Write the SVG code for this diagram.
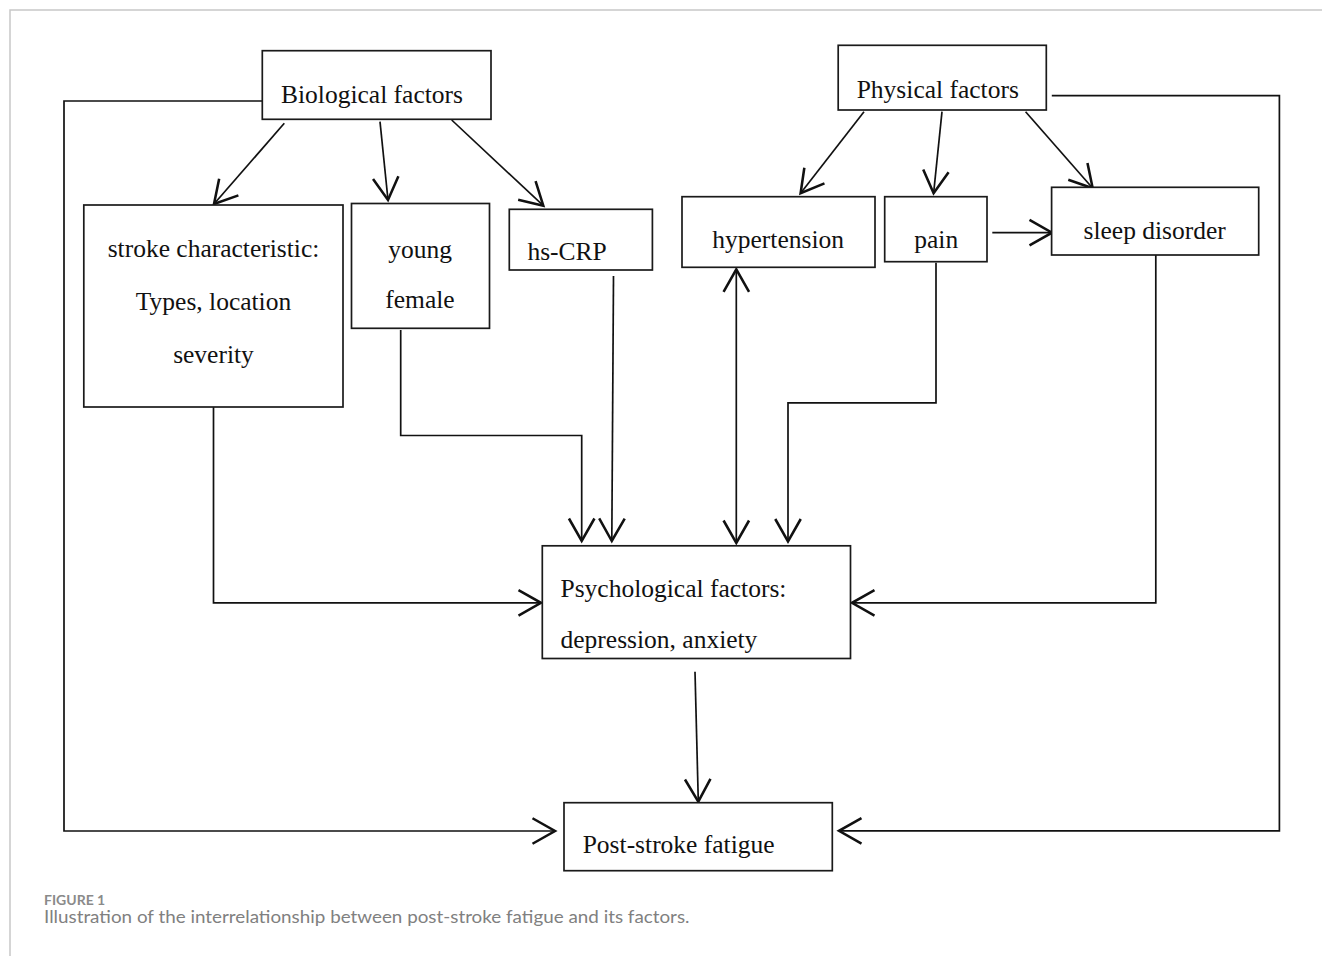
<svg xmlns="http://www.w3.org/2000/svg" width="1322" height="956" viewBox="0 0 1322 956">
<style>
.box{fill:#fff;stroke:#1a1a1a;stroke-width:1.7}
.lbl{font-family:"Liberation Serif","Times New Roman",serif;font-size:25.5px;fill:#111}
.con{fill:none;stroke:#111;stroke-width:1.7}
.frame{fill:none;stroke:#c8c8c8;stroke-width:1.5}
.cap1{font-family:Lato,"Open Sans",sans-serif;font-weight:bold;font-size:14px;fill:#8a8a8a}
.cap2{font-family:Lato,"Open Sans",sans-serif;font-size:17px;fill:#808080}
</style>
<defs>
<marker id="ah" markerUnits="userSpaceOnUse" markerWidth="30" markerHeight="30" refX="0" refY="0" viewBox="-16 -10 18 20" orient="auto-start-reverse" overflow="visible">
<path d="M-15,-8.5 L0,0 L-15,8.5" fill="none" stroke="#111" stroke-width="1.7"/>
</marker>
</defs>
<rect width="1322" height="956" fill="#fff"/>
<path class="frame" d="M10,956 V10 H1322"/>

<g id="connectors">
<polyline class="con" points="262,101 64,101 64,831 555,831" marker-end="url(#ah)"/>
<line class="con" x1="284.3" y1="123.3" x2="214" y2="204" marker-end="url(#ah)"/>
<line class="con" x1="380" y1="121.7" x2="388" y2="200" marker-end="url(#ah)"/>
<line class="con" x1="451.7" y1="120" x2="543.3" y2="205.7" marker-end="url(#ah)"/>
<polyline class="con" points="213.5,407 213.5,602.8 541,602.8" marker-end="url(#ah)"/>
<polyline class="con" points="400.7,330 400.7,435.5 581.7,435.5 581.7,541" marker-end="url(#ah)"/>
<line class="con" x1="613.5" y1="276" x2="611.8" y2="541" marker-end="url(#ah)"/>
<polyline class="con" points="1051.8,95.7 1279.4,95.7 1279.4,830.8 839,830.8" marker-end="url(#ah)"/>
<line class="con" x1="864" y1="111.7" x2="800.6" y2="193.3" marker-end="url(#ah)"/>
<line class="con" x1="942" y1="111.7" x2="933.6" y2="193.3" marker-end="url(#ah)"/>
<line class="con" x1="1025.6" y1="111.7" x2="1092.7" y2="188.3" marker-end="url(#ah)"/>
<line class="con" x1="992.3" y1="232.7" x2="1052" y2="232.7" marker-end="url(#ah)"/>
<line class="con" x1="736.3" y1="269.3" x2="736.3" y2="543" marker-start="url(#ah)" marker-end="url(#ah)"/>
<polyline class="con" points="936,262.7 936,402.8 788,402.8 788,541.5" marker-end="url(#ah)"/>
<polyline class="con" points="1155.8,255 1155.8,602.8 852,602.8" marker-end="url(#ah)"/>
<line class="con" x1="695" y1="671.7" x2="698.3" y2="801.7" marker-end="url(#ah)"/>
</g>

<g id="biological">
<rect class="box" x="262.3" y="50.7" width="228.7" height="68.6"/>
<text class="lbl" x="281" y="103.3">Biological factors</text>
</g>
<g id="physical">
<rect class="box" x="838.2" y="45.3" width="208.1" height="64.7"/>
<text class="lbl" x="856.7" y="97.7">Physical factors</text>
</g>
<g id="stroke">
<rect class="box" x="83.8" y="205" width="259.2" height="202"/>
<text class="lbl" text-anchor="middle" x="213.5" y="257">stroke characteristic:</text>
<text class="lbl" text-anchor="middle" x="213.5" y="310">Types, location</text>
<text class="lbl" text-anchor="middle" x="213.5" y="363">severity</text>
</g>
<g id="young">
<rect class="box" x="351.5" y="203.5" width="138" height="124.8"/>
<text class="lbl" text-anchor="middle" x="420" y="258">young</text>
<text class="lbl" text-anchor="middle" x="420" y="308.3">female</text>
</g>
<g id="hscrp">
<rect class="box" x="509.3" y="209.3" width="143.1" height="60.7"/>
<text class="lbl" x="527.4" y="260">hs-CRP</text>
</g>
<g id="hypertension">
<rect class="box" x="682" y="196.7" width="193" height="70.6"/>
<text class="lbl" x="712.3" y="248.3">hypertension</text>
</g>
<g id="pain">
<rect class="box" x="884.7" y="196.7" width="102.3" height="65"/>
<text class="lbl" x="914.3" y="248.3">pain</text>
</g>
<g id="sleep">
<rect class="box" x="1051.6" y="187.3" width="207.1" height="67.7"/>
<text class="lbl" x="1083.5" y="239.3">sleep disorder</text>
</g>
<g id="psychological">
<rect class="box" x="542.3" y="545.8" width="308.2" height="112.7"/>
<text class="lbl" x="560.5" y="596.7">Psychological factors:</text>
<text class="lbl" x="560.5" y="648">depression, anxiety</text>
</g>
<g id="poststroke">
<rect class="box" x="564" y="802.7" width="268.3" height="68"/>
<text class="lbl" x="582.7" y="853.3">Post-stroke fatigue</text>
</g>

<text class="cap1" x="44" y="905">FIGURE 1</text>
<text class="cap2" x="44" y="923" textLength="645.5" lengthAdjust="spacingAndGlyphs">Illustration of the interrelationship between post-stroke fatigue and its factors.</text>
</svg>
